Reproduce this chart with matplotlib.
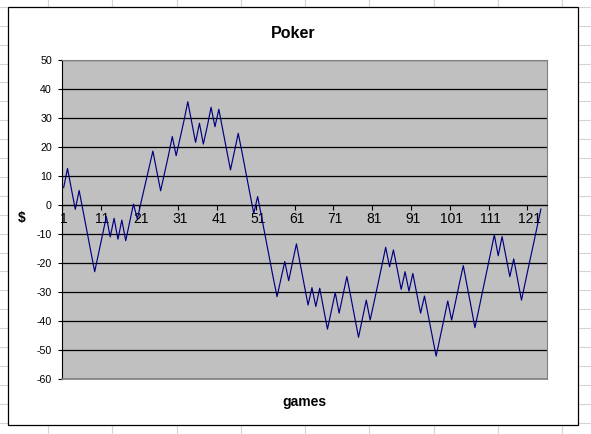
import matplotlib
matplotlib.use('Agg')
import matplotlib.pyplot as plt
from matplotlib.lines import Line2D
from matplotlib.patches import Rectangle

# Running poker result per game.
games = list(range(1, 125))
dollars = [
    6, 12.6, 5.5, -1.5, 5, -2, -9, -16, -23, -16.7,
    -10.4, -4, -11, -4.6, -11.8, -5.2, -12.3, -6, 0.3, -4.8,
    1.2, 7, 12.8, 18.6, 11.7, 4.9, 11, 17, 23.6, 17,
    23, 29, 35.6, 28.6, 21.6, 28.2, 21, 27, 33.7, 27,
    33, 26, 19, 12.1, 18.4, 24.7, 18, 11, 4, -2.9,
    2.9, -4, -11, -18, -25, -31.6, -25.5, -19.5, -26.1, -19.7,
    -13.4, -20.5, -27.5, -34.5, -28.5, -35, -28.7, -35.8, -42.8, -36.5,
    -30.2, -37.3, -31, -24.7, -31.6, -38.6, -45.6, -39.2, -32.8, -39.7,
    -33.5, -27.3, -21, -14.6, -21.3, -15.5, -22.3, -29.1, -23, -29.7,
    -23.6, -30.5, -37.3, -31.4, -38.3, -45.2, -52.1, -45.8, -39.5, -33.1,
    -39.7, -33.4, -27, -20.9, -28, -35, -42.3, -36, -29.6, -23.2,
    -16.8, -10.3, -17.5, -10.9, -17.8, -24.7, -18.6, -25.7, -32.8, -26.5,
    -20.2, -14, -7.7, -1.4,
]
n_categories = 125
x_labels = list(range(1, 122, 10))
y_ticks = list(range(-60, 51, 10))

W, H = 591, 434
plt.rcParams['font.family'] = ['Liberation Sans', 'DejaVu Sans']
fig = plt.figure(figsize=(W / 100, H / 100), dpi=100, facecolor='white')

# Spreadsheet cells behind the chart.
cell = '#d4d4d4'
for i in range(9):
    x = (48.3 + 64.2 * i) / W
    fig.add_artist(Line2D([x, x], [0, 1], transform=fig.transFigure, color=cell, lw=0.8, zorder=-3))
y = 6.8
while y < H:
    fig.add_artist(Line2D([0, 1], [1 - y / H, 1 - y / H], transform=fig.transFigure, color=cell, lw=0.8, zorder=-3))
    y += 18.9

# Chart area.
fig.add_artist(Rectangle((8 / W, 1 - 425 / H), 570 / W, 418 / H, transform=fig.transFigure,
                         facecolor='white', edgecolor='black', lw=0.9, zorder=-2))

ax = fig.add_axes([61.7 / W, 1 - 379 / H, 485 / W, 319 / H])
ax.set_facecolor('#c0c0c0')
ax.plot(games, dollars, color='#000080', lw=0.85, zorder=3)

ax.set_xlim(0.5, n_categories + 0.5)
ax.set_ylim(-60, 50)
ax.set_yticks(y_ticks)
ax.set_yticklabels([str(v) for v in y_ticks], fontsize=7.7)
ax.yaxis.grid(True, color='black', lw=0.9)
ax.set_axisbelow(True)

ax.set_xticks([v - 0.5 for v in x_labels])
ax.set_xticklabels([])
ax.set_xticks(x_labels, minor=True)
ax.set_xticklabels([str(v) for v in x_labels], minor=True, fontsize=7.7)
ax.tick_params(axis='x', which='major', direction='out', length=3.6, width=0.8, color='black')
ax.tick_params(axis='x', which='minor', length=0, pad=5)
ax.tick_params(axis='y', direction='out', length=3, width=0.8, pad=4)

ax.spines['bottom'].set_position(('data', 0))
ax.spines['bottom'].set_color('black')
ax.spines['left'].set_color('black')
ax.spines['top'].set_color('#808080')
ax.spines['right'].set_color('#808080')
ax.axhline(-60, color='#808080', lw=1.2, clip_on=False, zorder=4)

fig.text(293.5 / W, 1 - 33 / H, 'Poker', fontsize=11.5, fontweight='bold', ha='center', va='center')
fig.text(304 / W, 1 - 402 / H, 'games', fontsize=10, fontweight='bold', ha='center', va='center')
fig.text(22 / W, 1 - 218 / H, '$', fontsize=10, fontweight='bold', ha='center', va='center')

fig.savefig('out.png', dpi=100)
